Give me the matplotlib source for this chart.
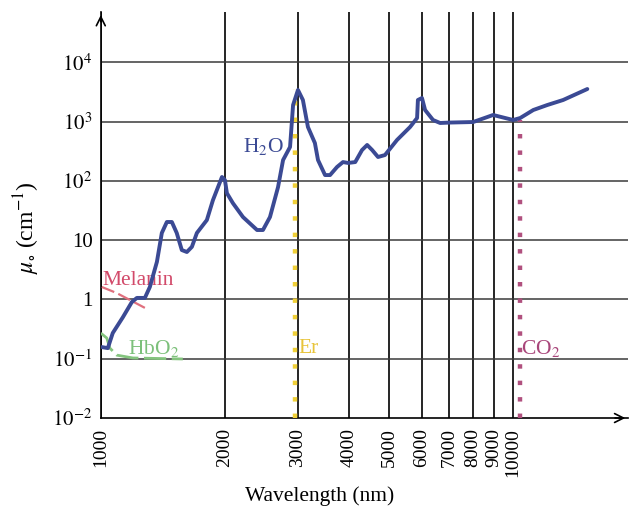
import matplotlib
matplotlib.use('Agg')
import matplotlib.pyplot as plt
import numpy as np

plt.rcParams['font.family'] = ['Liberation Serif', 'DejaVu Serif']
plt.rcParams['mathtext.fontset'] = 'stix'

# water absorption (wavelength nm, mu cm^-1)
h2o_wl = [1006, 1040, 1069, 1131, 1189, 1223, 1279, 1315, 1368, 1406, 1446, 1487, 1528,
          1572, 1617, 1663, 1710, 1808, 1870, 1967, 2000, 2022, 2091, 2212, 2393, 2473,
          2572, 2690, 2767, 2877, 2926, 3007, 3091, 3179, 3305, 3363, 3498, 3597, 3740,
          3866, 3979, 4140, 4300, 4425, 4551, 4702, 4888, 5228, 5623, 5848, 5875, 6010,
          6115, 6393, 6650, 7030, 7998, 8940, 10000, 10400, 11190, 12100, 13220, 15130]
h2o_mu = [0.157, 0.151, 0.271, 0.50, 0.90, 1.06, 1.06, 1.62, 4.3, 13.2, 20.2, 20.2, 13.2,
          6.8, 6.3, 7.7, 13.2, 21.8, 47, 116, 103, 62, 42, 24.5, 14.8, 14.8,
          24.5, 78, 224, 372, 1897, 3400, 2306, 807, 434, 224, 125, 125, 171,
          207, 200, 207, 330, 402, 330, 252, 272, 488, 807, 1145, 2306, 2490,
          1563, 1060, 944, 960, 980, 1288, 1060, 1145, 1563, 1897, 2306, 3530]

melanin_wl = [1006, 1093, 1279]
melanin_mu = [1.62, 1.28, 0.72]

hbo2_wl = [1000, 1034, 1052, 1093, 1196, 1581]
hbo2_mu = [0.27, 0.223, 0.151, 0.115, 0.103, 0.099]

er_wl = 2950
er_top = 3600
co2_wl = 10400
co2_top = 1050

xticks = [1000, 2000, 3000, 4000, 5000, 6000, 7000, 8000, 9000, 10000]
yticks = [1e-2, 1e-1, 1, 10, 1e2, 1e3, 1e4]
ylabels = ['$10^{-2}$', '$10^{-1}$', '1', '10', '$10^2$', '$10^3$', '$10^4$']

fig = plt.figure(figsize=(6.3, 5.15), dpi=100)
ax = fig.add_axes([0.160, 0.1883, 0.837, 0.788])
ax.set_xscale('log')
ax.set_yscale('log')
ax.set_xlim(1000, 19000)
ax.set_ylim(0.01, 10**4.843)

# grid
for w in xticks:
    ax.axvline(w, color='black', lw=1.2, zorder=1)
for m in yticks[1:]:
    ax.axhline(m, color='#3a3a3a', lw=1.1, zorder=1)

# lasers
ax.plot([er_wl, er_wl], [0.01, er_top], color='#f0d038', lw=3.2, ls=(0, (1, 2.7)),
        zorder=3)
ax.plot([co2_wl, co2_wl], [0.01, co2_top], color='#b0507e', lw=3.2, ls=(0, (1, 2.7)),
        zorder=3)

# chromophores
ax.plot(melanin_wl, melanin_mu, color='#e0707e', lw=1.6, ls=(0, (6, 2)), zorder=3)
ax.plot(hbo2_wl, hbo2_mu, color='#84c47e', lw=2.0, ls=(0, (8, 2)), zorder=3)
ax.plot(h2o_wl, h2o_mu, color='#3b4a94', lw=2.8, zorder=4, solid_capstyle='round',
        solid_joinstyle='round')

# labels on chart
ax.text(2212, 386, 'H$_2$O', color='#3b4a94', fontsize=15.5, va='center', ha='left')
ax.text(1011, 2.12, 'Melanin', color='#d24a6a', fontsize=15.5, va='center', ha='left')
ax.text(1163, 0.151, 'HbO$_2$', color='#7cc07a', fontsize=15.5, va='center', ha='left')
ax.text(3007, 0.151, 'Er', color='#e8c43a', fontsize=15.5, va='center', ha='left')
ax.text(10450, 0.151, 'CO$_2$', color='#a8457a', fontsize=15.5, va='center', ha='left')

# axes styling
for s in ['top', 'right']:
    ax.spines[s].set_visible(False)
ax.spines['left'].set_linewidth(1.2)
ax.spines['bottom'].set_linewidth(1.2)
ax.set_xticks(xticks)
ax.set_xticklabels([str(t) for t in xticks], rotation=90, va='top', fontsize=14)
ax.set_xticks([], minor=True)
ax.set_yticks(yticks)
ax.set_yticklabels(ylabels, fontsize=15)
ax.set_yticks([], minor=True)
ax.tick_params(axis='both', length=0)
ax.tick_params(axis='x', pad=7)
ax.tick_params(axis='y', pad=6)

# arrows
ax.annotate('', xy=(0, 1.0), xytext=(0, 0.97), xycoords='axes fraction',
            arrowprops=dict(arrowstyle='->', lw=1.2, color='black',
                            mutation_scale=16))
ax.annotate('', xy=(1.0, 0), xytext=(0.97, 0), xycoords='axes fraction',
            arrowprops=dict(arrowstyle='->', lw=1.2, color='black',
                            mutation_scale=16))

fig.text(0.508, 0.018, 'Wavelength (nm)', fontsize=15.5, ha='center', va='bottom')
fig.text(0.042, 0.557, r'$\mu_{\circ}$ (cm$^{-1}$)', fontsize=17, rotation=90,
         ha='center', va='center')

fig.savefig('out.png', dpi=100)
